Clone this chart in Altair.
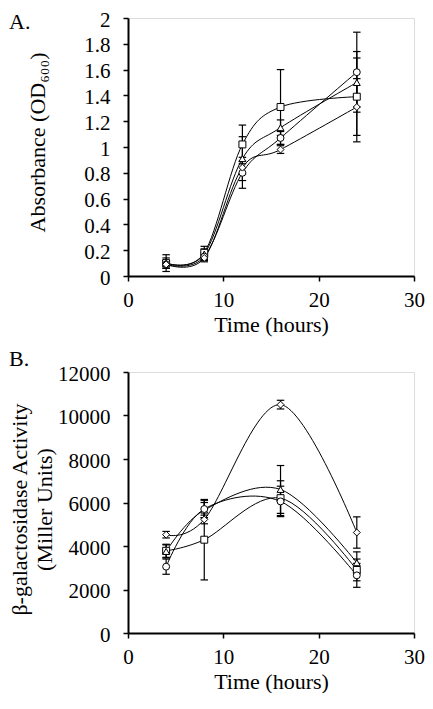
import altair as alt
import pandas as pd

# ---------------- data ----------------
series_names = ["square", "triangle", "circle", "diamond"]
series_shapes = ["square", "triangle-up", "circle", "diamond"]

# Panel A: growth (OD600)
times_a = [4, 8, 12, 16, 24]
od_square = [0.10, 0.18, 1.02, 1.31, 1.39]
od_square_err = [0.065, 0.05, 0.15, 0.29, 0.35]
od_triangle = [0.10, 0.17, 0.91, 1.15, 1.50]
od_triangle_err = [0.04, 0.04, 0.17, 0.06, 0.19]
od_circle = [0.09, 0.15, 0.80, 1.07, 1.58]
od_circle_err = [0.03, 0.03, 0.12, 0.05, 0.31]
od_diamond = [0.09, 0.14, 0.84, 0.98, 1.31]
od_diamond_err = [0.03, 0.03, 0.05, 0.03, 0.22]

# Panel B: beta-galactosidase activity (Miller units)
times_b = [4, 8, 16, 24]
ga_square = [3780, 4290, 6200, 2900]
ga_square_err = [300, 1850, 800, 500]
ga_triangle = [3750, 5650, 6600, 3230]
ga_triangle_err = [300, 350, 1100, 500]
ga_circle = [3050, 5700, 6050, 2650]
ga_circle_err = [350, 400, 700, 550]
ga_diamond = [4520, 5220, 10500, 4620]
ga_diamond_err = [150, 200, 200, 720]

x_ticks = [0, 10, 20, 30]
a_ticks = [0, 0.2, 0.4, 0.6, 0.8, 1.0, 1.2, 1.4, 1.6, 1.8, 2.0]
b_ticks = [0, 2000, 4000, 6000, 8000, 10000, 12000]

FONT = "Liberation Serif"


def make_df(times, vals, errs):
    rows = []
    for name, v, e in zip(series_names, vals, errs):
        for t, y, err in zip(times, v, e):
            rows.append({"t": t, "y": y, "lo": y - err, "hi": y + err, "series": name})
    return pd.DataFrame(rows)


df_a = make_df(times_a, [od_square, od_triangle, od_circle, od_diamond],
               [od_square_err, od_triangle_err, od_circle_err, od_diamond_err])
df_b = make_df(times_b, [ga_square, ga_triangle, ga_circle, ga_diamond],
               [ga_square_err, ga_triangle_err, ga_circle_err, ga_diamond_err])


def panel(df, letter, y_domain, y_ticks, y_fmt, y_title, title_x, title_y,
          width, height, letter_x, letter_y):
    x_axis = alt.Axis(
        values=x_ticks, format="d", grid=False, labelFlush=False,
        tickSize=5, tickWidth=1.5, tickColor="black",
        domainColor="black", domainWidth=2,
        labelFont=FONT, labelFontSize=21, labelColor="black",
        labelBaseline="alphabetic", labelPadding=25,
        title="Time (hours)", titleFont=FONT, titleFontSize=22,
        titleFontWeight="normal", titleColor="black",
        titleBaseline="alphabetic", titleY=55,
    )
    y_axis = alt.Axis(
        values=y_ticks, format=y_fmt, grid=False,
        tickSize=5, tickWidth=1.5, tickColor="black",
        domainColor="black", domainWidth=2,
        labelFont=FONT, labelFontSize=21, labelColor="black",
        labelPadding=13, labelOffset=2,
        title=y_title, titleFont=FONT, titleFontSize=22,
        titleFontWeight="normal", titleColor="black",
        titleAngle=270, titleBaseline="alphabetic", titleAlign="center",
        titleX=title_x, titleY=title_y, titleLineHeight=25,
    )
    xs = alt.Scale(domain=[0, 30], nice=False)
    ys = alt.Scale(domain=y_domain, nice=False)
    x = alt.X("t:Q", scale=xs, axis=x_axis)
    y = alt.Y("y:Q", scale=ys, axis=y_axis)

    base = alt.Chart(df)
    lines = base.mark_line(interpolate="cardinal", color="black", strokeWidth=1).encode(
        x=x, y=y, detail="series:N")
    rules = base.mark_rule(color="black", strokeWidth=1.2).encode(
        x=x, y=alt.Y("lo:Q", scale=ys, axis=y_axis), y2="hi:Q")
    cap_hi = base.mark_point(shape="M-1,0L1,0", size=56, stroke="black",
                             strokeWidth=1.2, filled=False, opacity=1).encode(
        x=x, y=alt.Y("hi:Q", scale=ys, axis=y_axis))
    cap_lo = base.mark_point(shape="M-1,0L1,0", size=56, stroke="black",
                             strokeWidth=1.2, filled=False, opacity=1).encode(
        x=x, y=alt.Y("lo:Q", scale=ys, axis=y_axis))
    pts = base.mark_point(filled=False, fill="white", fillOpacity=1, stroke="black",
                          strokeWidth=1, size=48, opacity=1).encode(
        x=x, y=y,
        shape=alt.Shape("series:N", scale=alt.Scale(domain=series_names, range=series_shapes),
                        legend=None))
    lab = alt.Chart(pd.DataFrame({"lab": [letter]})).mark_text(
        font=FONT, fontSize=22, align="left", baseline="middle", color="black").encode(
        text="lab:N", x=alt.value(letter_x), y=alt.value(letter_y))
    return alt.layer(lines, rules, cap_hi, cap_lo, pts, lab).properties(
        width=width, height=height)


chart_a = panel(df_a, "A.", [0, 2], a_ticks, "~g", "Absorbance (OD₆₀₀)",
                -84, 124, 286, 258, -119, 4)
chart_b = panel(df_b, "B.", [0, 12000], b_ticks, "d",
                ["β-galactosidase Activity", "(Miller Units)"],
                -101.5, 137, 286, 261, -119, -13)

chart = alt.vconcat(chart_a, chart_b, spacing=11).properties(
    padding={"left": 0, "top": 0, "right": 0, "bottom": 0}
).configure_view(stroke="black", strokeWidth=1.3).configure(background="white")

chart.save("out.html", embed_options={"renderer": "svg", "actions": False})
